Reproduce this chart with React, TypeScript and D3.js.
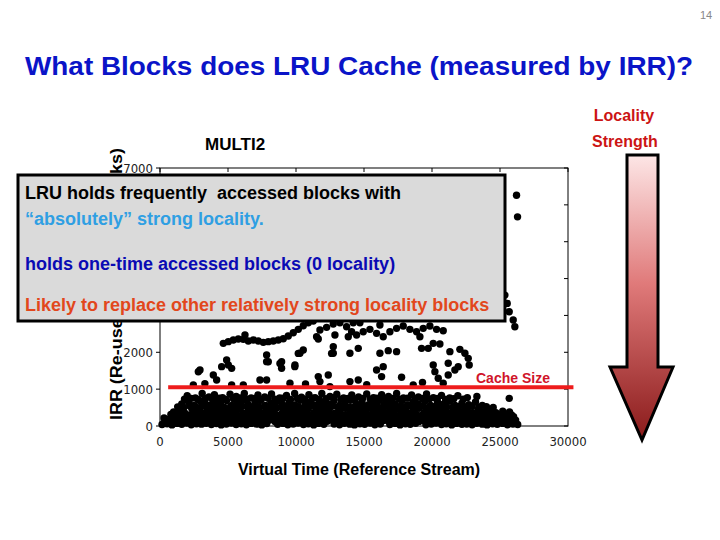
import * as d3 from 'd3';
import * as React from 'react';

// MULTI2 trace: IRR (re-use distance) vs virtual time
const xTicks = [0, 5000, 10000, 15000, 20000, 25000, 30000];
const yTicks = [0, 1000, 2000, 3000, 4000, 5000, 6000, 7000];
const cacheLine: [number, number][] = [[600, 1050], [30400, 1050]];

// dense band under the cache size
const bandRow0: [number, number][] = [
  [150, 40], [520, 60], [880, 30], [1250, 70], [1600, 45], [1980, 80], [2300, 35], [2680, 60], [3050, 50], [3400, 75],
  [3780, 40], [4150, 65], [4500, 30], [4880, 55], [5250, 80], [5600, 40], [5980, 60], [6350, 35], [6700, 70], [7100, 50],
  [7480, 30], [7850, 65], [8650, 45], [9050, 70], [9400, 35], [9800, 55], [10150, 80], [10550, 40], [10900, 60], [11300, 30],
  [11650, 70], [12050, 45], [12800, 55], [13200, 35], [13550, 75], [13950, 50], [14300, 30], [14700, 60], [15050, 45], [15450, 80],
  [15800, 35], [16200, 55], [16900, 40], [17300, 70], [17650, 30], [18050, 60], [18400, 45], [18800, 75], [19550, 35], [19950, 55],
  [20300, 80], [20700, 40], [21050, 60], [21450, 30], [21800, 70], [22200, 45], [22550, 55], [22950, 35], [23300, 75], [23700, 50],
  [24050, 30], [24450, 60], [24800, 45], [25200, 70], [25550, 35], [25950, 55], [26300, 40],
];
const bandRow0b: [number, number][] = [
  [350, 130], [750, 150], [1150, 120], [1400, 160], [1750, 130], [2100, 150], [2450, 120], [2850, 160], [3200, 135], [3600, 150],
  [3950, 120], [4350, 160], [4700, 130], [5050, 145], [5450, 125], [5800, 160], [6200, 130], [6550, 150], [6950, 120], [7300, 155],
  [7700, 135], [8050, 160], [8450, 120], [8850, 150], [9250, 130], [9600, 160], [10000, 125], [10400, 150], [10750, 135], [11150, 160],
  [11500, 120], [11900, 150], [12300, 130], [12650, 160], [13050, 125], [13400, 150], [13800, 135], [14150, 160], [14550, 120], [14950, 150],
  [15300, 130], [15700, 160], [16050, 125], [16450, 150], [16800, 135], [17200, 160], [17550, 120], [17950, 150], [18300, 130], [18650, 160],
  [19050, 125], [19400, 150], [19800, 135], [20150, 160], [20550, 120], [20900, 150], [21300, 130], [21650, 160], [22050, 125], [22400, 150],
  [22800, 135], [23150, 160], [23550, 120], [23900, 150], [24300, 130], [24650, 160], [25050, 125], [25400, 150], [25800, 135], [26150, 160],
];
const bandRow1: [number, number][] = [
  [300, 220], [700, 190], [1100, 250], [1500, 210], [1850, 270], [2250, 200], [2600, 240], [3000, 185], [3350, 260], [3750, 215],
  [4100, 280], [4500, 195], [4850, 245], [5250, 210], [5650, 265], [6000, 190], [6400, 230], [6800, 275], [7150, 205], [7550, 250],
  [7900, 185], [8300, 240], [8700, 210], [9100, 270], [9450, 195], [9850, 235], [10250, 260], [10600, 200], [11000, 245], [11400, 185],
  [11750, 270], [12150, 215], [12550, 250], [12900, 190], [13300, 265], [13700, 225], [14050, 195], [14450, 255], [14850, 210], [15200, 275],
  [15600, 200], [16000, 240], [16400, 185], [16750, 260], [17150, 220], [17550, 250], [17900, 195], [18300, 270], [18700, 210], [19100, 245],
  [19450, 190], [19850, 260], [20250, 225], [20650, 270], [21000, 200], [21400, 250], [21800, 215], [22150, 265], [22550, 190], [22950, 240],
  [23300, 210], [23700, 260], [24100, 195], [24500, 245], [24850, 215], [25250, 270], [25650, 205], [26000, 250],
];
const bandRow1b: [number, number][] = [
  [800, 310], [1250, 290], [1650, 330], [2050, 300], [2450, 320], [2850, 295], [3250, 330], [3650, 305], [4050, 290], [4450, 325],
  [4850, 300], [5250, 330], [5650, 295], [6050, 315], [6450, 290], [6850, 330], [7250, 305], [7650, 320], [8050, 290], [8450, 330],
  [8850, 300], [9250, 315], [9650, 290], [10050, 330], [10450, 305], [10850, 320], [11250, 295], [11650, 330], [12050, 300], [12450, 315],
  [12850, 290], [13250, 330], [13650, 305], [14050, 320], [14450, 295], [14850, 330], [15250, 300], [15650, 315], [16050, 290], [16450, 330],
  [16850, 305], [17250, 320], [17650, 295], [18050, 330], [18450, 300], [18850, 315], [19250, 290], [19650, 330], [20050, 305], [20450, 320],
  [20850, 295], [21250, 330], [21650, 300], [22050, 315], [22450, 290], [22850, 330], [23250, 305], [23650, 320], [24050, 295], [24450, 330],
  [24850, 300], [25300, 315], [25850, 300],
];
const bandRow2: [number, number][] = [
  [1000, 380], [1450, 430], [1800, 360], [2350, 460], [2750, 400], [3150, 350], [3500, 440], [3950, 390], [4300, 470], [4700, 360],
  [5100, 420], [5500, 380], [5900, 460], [6250, 350], [6650, 410], [7050, 470], [7400, 370], [7800, 430], [8200, 390], [8550, 480],
  [9000, 360], [9350, 420], [9750, 450], [10100, 370], [10500, 410], [10900, 470], [11300, 360], [11700, 430], [12100, 390], [12450, 460],
  [12850, 350], [13250, 420], [13650, 480], [14000, 380], [14400, 440], [14800, 360], [15150, 410], [15550, 470], [15950, 380], [16300, 440],
  [16700, 360], [17100, 420], [17500, 470], [17850, 390], [18250, 350], [18650, 430], [19050, 480], [19450, 370], [19850, 420], [20200, 460],
  [20600, 380], [21000, 430], [21400, 360], [21800, 450], [22200, 390], [22600, 420], [23000, 360], [23400, 440], [23800, 380], [24200, 420],
  [24700, 360], [25200, 400], [25700, 380],
];
const bandRow2b: [number, number][] = [
  [1300, 520], [1750, 500], [2200, 540], [2650, 510], [3050, 530], [3450, 500], [3900, 540], [4300, 515], [4750, 500], [5200, 535],
  [5600, 510], [6050, 540], [6450, 500], [6900, 525], [7300, 510], [7700, 540], [8100, 500], [8500, 530], [8950, 515], [9350, 540],
  [9800, 500], [10200, 525], [10650, 510], [11050, 540], [11450, 500], [11850, 530], [12300, 515], [12700, 540], [13100, 500], [13550, 525],
  [13950, 510], [14350, 540], [14800, 500], [15200, 530], [15600, 515], [16000, 540], [16450, 500], [16850, 525], [17250, 510], [17700, 540],
  [18100, 500], [18500, 530], [18950, 515], [19350, 540], [19750, 500], [20150, 525], [20600, 510], [21050, 540], [21500, 500], [21950, 525],
  [22450, 510], [22950, 535], [23450, 505], [24000, 525], [24500, 500],
];
const bandRow3: [number, number][] = [
  [1600, 600], [2100, 650], [2500, 560], [2900, 690], [3300, 610], [3700, 570], [4100, 660], [4450, 600], [4900, 690], [5300, 560],
  [5700, 640], [6100, 700], [6500, 580], [7000, 630], [7350, 690], [7750, 560], [8150, 620], [8600, 680], [9000, 590], [9500, 650],
  [9900, 570], [10300, 700], [10700, 610], [11100, 660], [11500, 570], [11950, 640], [12400, 600], [12800, 690], [13200, 560], [13600, 640],
  [14000, 700], [14450, 590], [14850, 660], [15300, 570], [15700, 630], [16100, 690], [16500, 580], [16900, 650], [17300, 600], [17800, 690],
  [18200, 570], [18600, 640], [19000, 600], [19500, 680], [19900, 560], [20400, 650], [20850, 600], [21300, 680], [21700, 560], [22200, 620],
  [22700, 580], [23200, 650], [23700, 560],
];
const bandRow3b: [number, number][] = [
  [1800, 730], [2300, 750], [2800, 720], [3350, 745], [3850, 730], [4350, 755], [4800, 720], [5400, 740], [5900, 760], [6400, 725],
  [6950, 745], [7450, 720], [7950, 750], [8450, 730], [9050, 755], [9600, 720], [10100, 745], [10650, 730], [11200, 755], [11700, 720],
  [12200, 740], [12750, 760], [13300, 725], [13800, 745], [14300, 720], [14900, 750], [15450, 730], [15950, 755], [16550, 720], [17100, 745],
  [17600, 730], [18200, 755], [18750, 720], [19300, 745], [19800, 730], [20400, 750], [21000, 720], [21600, 740], [22300, 730],
];
const bandRow4: [number, number][] = [
  [2000, 820], [2600, 760], [3100, 880], [3600, 790], [4000, 850], [4600, 770], [5150, 860], [5600, 800], [6200, 880], [6700, 760],
  [7200, 840], [7700, 790], [8200, 870], [8800, 760], [9300, 830], [9900, 880], [10400, 780], [10950, 850], [11400, 770], [11900, 880],
  [12500, 800], [13000, 860], [13500, 760], [14100, 840], [14600, 790], [15200, 870], [15700, 770], [16300, 850], [16800, 800], [17400, 880],
  [17900, 760], [18500, 840], [19000, 790], [19600, 870], [20100, 770], [20700, 830], [21300, 760], [21900, 820], [22600, 770], [23300, 800],
  [25680, 750],
];

// scattered points between the cache size and the upper curve
const midScatter: [number, number][] = [
  [7840, 1927], [7840, 1746], [8943, 1746], [8943, 1565], [9913, 1610], [10290, 1972], [10535, 2062], [12740, 2152], [12740, 1972],
  [13965, 1972], [14578, 2107], [16170, 1972], [16783, 2044], [17395, 2017], [19233, 2107], [19723, 2107], [20090, 2242], [20580, 2224],
  [21315, 2017], [22050, 2080], [22418, 1972], [22663, 1836], [22736, 1656], [20090, 1656], [20213, 1475], [20458, 1295], [20825, 1159],
  [21193, 1385], [21683, 1520], [21928, 1610], [21193, 1701], [4900, 1791], [5023, 1656], [4533, 1610], [2940, 1520], [3920, 1385],
  [4165, 1249], [2450, 1114], [7350, 1249], [7840, 1249], [11638, 1340], [11760, 1204], [12373, 1385], [12495, 1069], [13965, 1204],
  [14578, 1249], [15925, 1520], [16415, 1610], [16293, 1340], [17763, 1322], [18620, 1114], [9555, 1159], [6125, 1114], [5268, 1114],
  [5268, 1564], [2818, 1473], [7963, 1744], [8820, 1699], [9923, 1654], [10168, 1970], [11515, 2422], [12618, 1970], [3300, 1150],
  [10700, 1140], [15200, 1120], [19300, 1180],
];

// wavy curve and cluster near 2200-2900
const upperCurve: [number, number][] = [
  [4655, 2243], [5022, 2288], [5390, 2333], [5758, 2360], [6125, 2351], [6493, 2306], [6860, 2333], [7228, 2306], [7595, 2270],
  [7963, 2288], [8330, 2306], [8698, 2333], [9065, 2369], [9433, 2441], [9800, 2532], [10168, 2622], [10535, 2721], [10903, 2802],
  [11270, 2848], [6248, 2468], [11760, 2604], [12250, 2676], [12740, 2766], [13230, 2802], [13720, 2694], [14088, 2559], [14455, 2468],
  [14945, 2559], [15435, 2622], [15925, 2514], [16415, 2423], [16905, 2559], [17395, 2649], [17885, 2712], [18375, 2622], [18865, 2559],
  [19355, 2649], [19845, 2712], [20335, 2622], [20825, 2586], [11638, 2360], [14210, 2802], [12863, 2468], [13843, 2423], [14700, 2802],
  [16170, 2739], [19110, 2423],
];

// isolated high points on the right
const highPoints: [number, number][] = [
  [25358, 3552], [25529, 3326], [25676, 3101], [25970, 2875], [26093, 2694], [26215, 6261], [26289, 5674],
];

const allPoints = [
  ...bandRow0, ...bandRow0b, ...bandRow1, ...bandRow1b, ...bandRow2, ...bandRow2b, ...bandRow3, ...bandRow3b, ...bandRow4,
  ...midScatter, ...upperCurve, ...highPoints,
];

const boxLines = [
  { text: 'LRU holds frequently  accessed blocks with', color: '#000000', y: 199 },
  { text: '\u201cabsolutely\u201d strong locality.', color: '#2f9fe3', y: 225 },
  { text: 'holds one-time accessed blocks (0 locality)', color: '#0a0ab4', y: 270 },
  { text: 'Likely to replace other relatively strong locality blocks', color: '#e2471c', y: 311 },
];

const bold = "'Liberation Sans', Arial, sans-serif";
const tickFont = "'Liberation Sans Narrow', 'DejaVu Sans Condensed', 'Liberation Sans', sans-serif";

export default function App() {
  const x = d3.scaleLinear().domain([0, 30000]).range([160, 568]);
  const y = d3.scaleLinear().domain([0, 7000]).range([426, 168]);
  const line = d3.line<[number, number]>().x(d => x(d[0])).y(d => y(d[1]));
  const arrow: [number, number][] = [[627, 155], [658, 155], [658, 367], [673, 367], [642, 440], [610, 367], [627, 367]];

  return (
    <svg width={720} height={540} style={{ position: 'absolute', left: 0, top: 0, background: '#fff' }}>
      <defs>
        <linearGradient id="arrowGrad" x1="0" y1="0" x2="0" y2="1">
          <stop offset="0%" stopColor="#fde6e6" />
          <stop offset="45%" stopColor="#e07a7a" />
          <stop offset="100%" stopColor="#8a1a1a" />
        </linearGradient>
      </defs>

      <text x={706} y={19} fontSize={11} fill="#888" fontFamily={bold} textAnchor="middle">14</text>
      <text x={359} y={75} fontSize={26} fontWeight="bold" fill="#0a14c8" fontFamily={bold}
        textAnchor="middle" textLength={668} lengthAdjust="spacingAndGlyphs">
        What Blocks does LRU Cache (measured by IRR)?
      </text>

      <text x={205} y={150} fontSize={17} fontWeight="bold" fontFamily={bold}>MULTI2</text>

      {/* frame and ticks */}
      <rect x={160} y={168} width={408} height={258} fill="none" stroke="#000" strokeWidth={1} />
      {yTicks.map(t => (
        <g key={'y' + t}>
          <line x1={156} x2={160} y1={y(t)} y2={y(t)} stroke="#000" />
          <line x1={564} x2={568} y1={y(t)} y2={y(t)} stroke="#000" />
          <text x={153} y={y(t) + 5} fontSize={13} textAnchor="end" fontFamily={tickFont} fill="#222">{t}</text>
        </g>
      ))}
      {xTicks.map(t => (
        <g key={'x' + t}>
          <line x1={x(t)} x2={x(t)} y1={168} y2={172} stroke="#000" />
          <text x={x(t)} y={446} fontSize={13} textAnchor="middle" fontFamily={tickFont} fill="#222">{t}</text>
        </g>
      ))}

      <text transform="translate(122,420) rotate(-90)" fontSize={16} fontWeight="bold" fontFamily={bold}
        textLength={272} lengthAdjust="spacingAndGlyphs">
        IRR (Re-use Distance in Blocks)
      </text>

      {allPoints.map((d, i) => (
        <circle key={i} cx={x(d[0])} cy={y(d[1])} r={3.7} fill="#000" />
      ))}

      <path d={line(cacheLine) || ''} stroke="#ee1c1c" strokeWidth={4} fill="none" />
      <text x={476} y={383} fontSize={14} fontWeight="bold" fill="#d0142a" fontFamily={bold}>Cache Size</text>

      <text x={359} y={475} fontSize={16} fontWeight="bold" fontFamily={bold} textAnchor="middle">
        Virtual Time (Reference Stream)
      </text>

      {/* overlay box */}
      <rect x={18} y={175} width={487} height={146} fill="#dadada" stroke="#000" strokeWidth={3} />
      {boxLines.map(l => (
        <text key={l.y} x={25} y={l.y} fontSize={18} fontWeight="bold" fill={l.color} fontFamily={bold}
          style={{ whiteSpace: 'pre' }}>
          {l.text}
        </text>
      ))}

      {/* locality strength arrow */}
      <text x={624} y={121} fontSize={16} fontWeight="bold" fill="#cc1414" fontFamily={bold} textAnchor="middle">Locality</text>
      <text x={625} y={147} fontSize={16} fontWeight="bold" fill="#cc1414" fontFamily={bold} textAnchor="middle">Strength</text>
      <polygon points={arrow.map(p => p.join(',')).join(' ')} fill="url(#arrowGrad)" stroke="#000" strokeWidth={3}
        strokeLinejoin="miter" />
    </svg>
  );
}
